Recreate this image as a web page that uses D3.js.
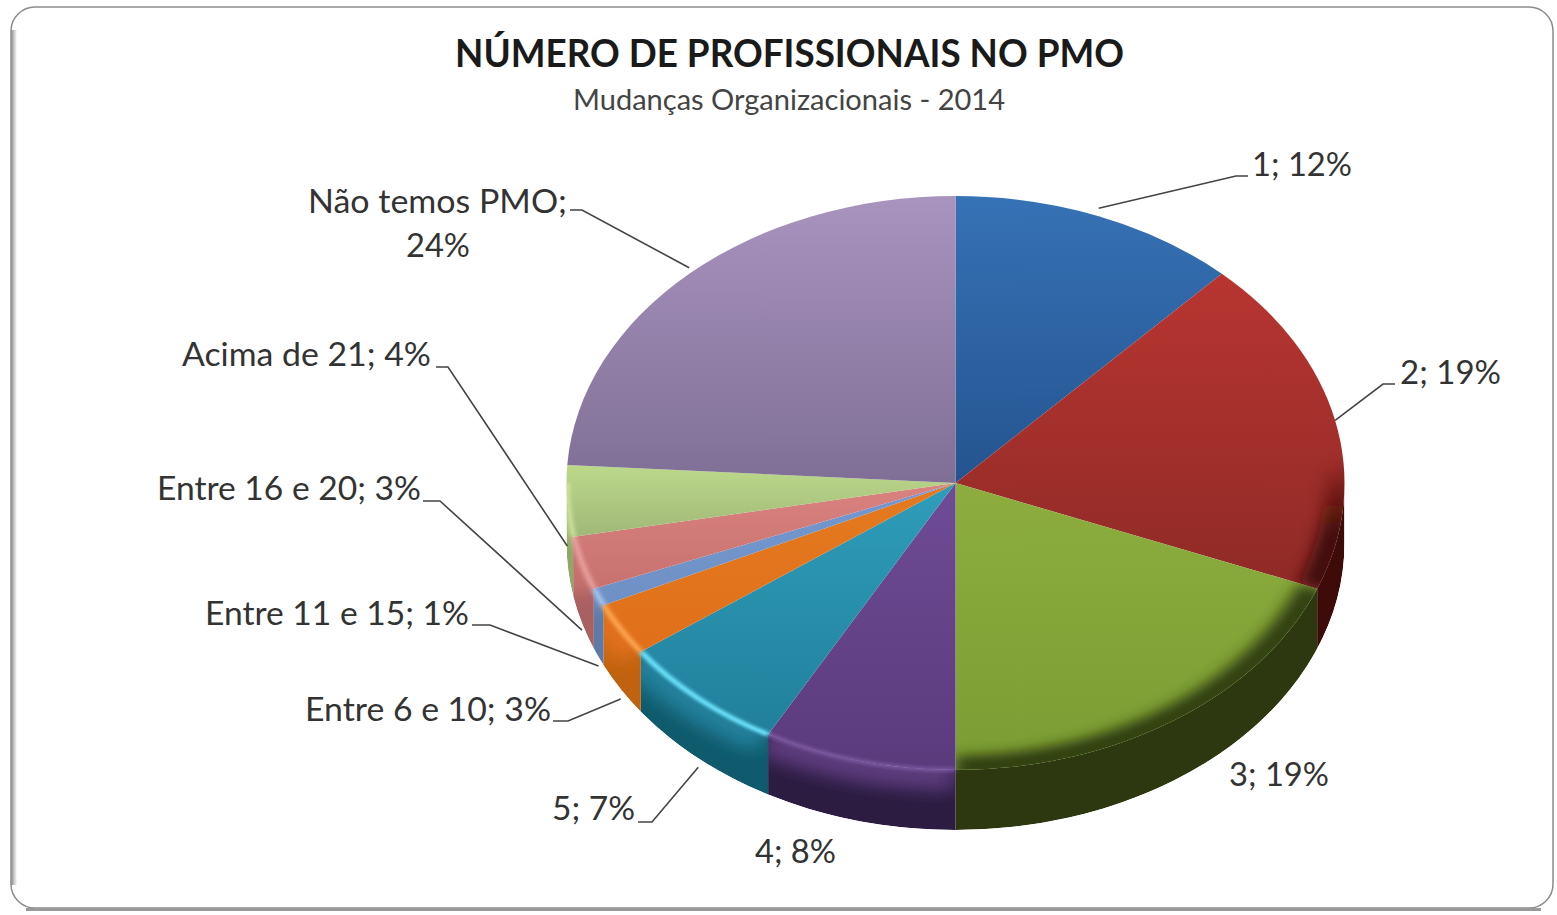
<!DOCTYPE html>
<html>
<head>
<meta charset="utf-8">
<script src="https://cdn.jsdelivr.net/npm/d3@7"></script>
<style>
  html, body { margin: 0; padding: 0; background: #fff; }
  svg { display: block; }
  text { font-family: Lato, "Open Sans", sans-serif; fill: #333; }
</style>
</head>
<body>
<svg id="chart" width="1557" height="915"></svg>
<script>
// data
const categories = ['1', '2', '3', '4', '5', 'Entre 6 e 10', 'Entre 11 e 15', 'Entre 16 e 20', 'Acima de 21', 'Não temos PMO'];
const percents = [12, 19, 19, 8, 7, 3, 1, 3, 4, 24];

// colours, one per slice
const topLight = ['#3672b6', '#b83531', '#8dae3e', '#6f4c96', '#2f9dba', '#e47a20', '#7399d0', '#d98280', '#bcd98a', '#a993bf'];
const topDark = ['#24548f', '#8f2a26', '#7a9c33', '#5b3a7c', '#21809b', '#e0701a', '#6f90c4', '#c87270', '#a0b878', '#7f6f96'];
const sideColors = ['#24548f', '#3f0b08', '#2d3810', '#2c1c42', '#0f5a6c', '#c0620f', '#5e7aa8', '#a96060', '#8fa865', '#6d5f85'];
const glowColors = ['#000', '#000', '#000', '#8e6ab5', '#6ee6ff', '#ffab55', '#a8c8f0', '#eda9a7', '#d9f0a8', '#a993bf'];
const glowOpacity = [0, 0, 0, 0.55, 1, 0.9, 0.9, 0.8, 0.7, 0];
const rimOpacity = [0, 1, 0.95, 0, 0, 0, 0, 0, 0, 0];

// label placement: hand placed in the original, like Excel leaves them
const labelX = [1252, 1400, 1229, 755, 552, 305, 205, 157, 182, 308];
const labelY = [176, 384, 786, 863, 820, 721, 625, 500, 366, 213];
const labelW = [100, 101, 100, 81, 83, 246, 264, 264, 249, 259];
const elbowX = [1236, 1383, null, null, 652, 568, 490, 440, 448, 582];
const elbowY = [176, 384, null, null, 822, 721, 625, 501, 367, 210];
const elbowStart = [1248, 1395, null, null, 638, 553, 472, 423, 436, 570];
const anchorDy = [-8, 0, 0, 0, 69, 70, 69, 67, 45, -6];

const cx = 955.5,
  cy = 483,
  rx = 389,
  ry = 287,
  depth = 60;
const squash = ry / rx;
const deep = depth / squash;

const svg = d3.select('#chart');
const defs = svg.append('defs');

// frame
const frameShadow = defs.append('linearGradient').attr('id', 'frameLeft');
frameShadow.append('stop').attr('offset', 0).attr('stop-color', '#8a8a8a');
frameShadow.append('stop').attr('offset', 1).attr('stop-color', '#fff');

svg.append('rect')
  .attr('x', 11).attr('y', 7)
  .attr('width', 1542).attr('height', 901)
  .attr('rx', 24)
  .attr('fill', '#fff')
  .attr('stroke', '#8c8c8c')
  .attr('stroke-width', 1.5);
svg.append('rect')
  .attr('x', 11).attr('y', 30)
  .attr('width', 6).attr('height', 855)
  .attr('fill', 'url(#frameLeft)');
svg.append('rect')
  .attr('x', 26).attr('y', 908)
  .attr('width', 1515).attr('height', 3)
  .attr('fill', '#9a9a9a');

// titles
svg.append('text')
  .attr('x', 455).attr('y', 67)
  .attr('textLength', 669)
  .attr('lengthAdjust', 'spacingAndGlyphs')
  .style('font-size', '38px')
  .style('font-weight', 700)
  .style('fill', '#1a1a1a')
  .text('NÚMERO DE PROFISSIONAIS NO PMO');
svg.append('text')
  .attr('x', 573).attr('y', 110)
  .attr('textLength', 432)
  .attr('lengthAdjust', 'spacingAndGlyphs')
  .style('font-size', '28px')
  .style('fill', '#444')
  .text('Mudanças Organizacionais - 2014');

// pie, drawn in a squashed group so that d3.arc gives the ellipse
const pie = d3.pie().value((d) => d).sort(null)(percents);
const arc = d3.arc().innerRadius(0).outerRadius(rx);
const rimArc = d3.arc().innerRadius(rx * 0.95).outerRadius(rx * 1.03);

const g = svg.append('g').attr('transform', `translate(${cx},${cy}) scale(1,${squash})`);

function blur(id, amount) {
  defs.append('filter')
    .attr('id', id)
    .attr('filterUnits', 'userSpaceOnUse')
    .attr('x', -450).attr('y', -450)
    .attr('width', 900).attr('height', 1000)
    .append('feGaussianBlur')
    .attr('stdDeviation', amount);
}
blur('blurWide', 11);
blur('blurRim', 8);
blur('blurThin', 2.2);

const clip = defs.append('clipPath').attr('id', 'silhouette');
clip.append('circle').attr('r', rx);
clip.append('circle').attr('cy', deep).attr('r', rx);
clip.append('rect').attr('x', -rx).attr('width', 2 * rx).attr('height', deep);

pie.forEach((d, i) => {
  const top = defs.append('linearGradient')
    .attr('id', 'top' + i)
    .attr('x1', 0).attr('y1', 0).attr('x2', 0).attr('y2', 1);
  top.append('stop').attr('offset', 0).attr('stop-color', topLight[i]);
  top.append('stop').attr('offset', 1).attr('stop-color', topDark[i]);

  // rim fades in going down the right side
  const rim = defs.append('linearGradient')
    .attr('id', 'rim' + i)
    .attr('gradientUnits', 'userSpaceOnUse')
    .attr('x1', 0).attr('y1', -30).attr('x2', 0).attr('y2', 70);
  rim.append('stop').attr('offset', 0).attr('stop-color', sideColors[i]).attr('stop-opacity', 0);
  rim.append('stop').attr('offset', 1).attr('stop-color', sideColors[i]).attr('stop-opacity', rimOpacity[i]);
});

// front wall visible between 3 and 9 o'clock
function frontRange(d) {
  const a0 = Math.max(d.startAngle, Math.PI / 2);
  const a1 = Math.min(d.endAngle, (3 * Math.PI) / 2);
  return a0 < a1 ? [a0 - Math.PI / 2, a1 - Math.PI / 2] : null;
}
function wallPath(d) {
  const range = frontRange(d);
  if (!range) return null;
  const p = d3.path();
  p.arc(0, 0, rx, range[0], range[1]);
  p.arc(0, deep, rx, range[1], range[0], true);
  p.closePath();
  return p.toString();
}
function edgePath(d) {
  const range = frontRange(d);
  if (!range) return null;
  const p = d3.path();
  p.arc(0, 0, rx, range[0], range[1]);
  return p.toString();
}

const front = pie.filter((d) => frontRange(d));
const walls = g.append('g').attr('clip-path', 'url(#silhouette)');

walls.selectAll('path.wall')
  .data(front)
  .enter()
  .append('path')
  .attr('class', 'wall')
  .attr('d', wallPath)
  .attr('fill', (d) => sideColors[d.index]);

// soft fade of the top colour down the wall, clipped to each wall piece
front.forEach((d) => {
  defs.append('clipPath').attr('id', 'wall' + d.index)
    .append('path').attr('d', wallPath(d));
});
walls.selectAll('g.fade')
  .data(front)
  .enter()
  .append('g')
  .attr('class', 'fade')
  .attr('clip-path', (d) => `url(#wall${d.index})`)
  .append('path')
  .attr('d', edgePath)
  .attr('fill', 'none')
  .attr('stroke', (d) => topDark[d.index])
  .attr('stroke-width', 56)
  .attr('stroke-opacity', (d) => (glowOpacity[d.index] > 0 ? 1 : 0))
  .attr('filter', 'url(#blurWide)');

g.selectAll('path.top')
  .data(pie)
  .enter()
  .append('path')
  .attr('class', 'top')
  .attr('d', arc)
  .attr('fill', (d) => `url(#top${d.index})`);

// rim stays inside its own slice so it does not bleed over the neighbour
pie.forEach((d) => {
  defs.append('clipPath').attr('id', 'wedge' + d.index)
    .append('path').attr('d', arc(d));
});

// everything after the top face, still kept inside the pie outline
const overlay = g.append('g').attr('clip-path', 'url(#silhouette)');

// dark rim on the right side of the top face
overlay.selectAll('g.rim')
  .data(pie.filter((d) => rimOpacity[d.index] > 0))
  .enter()
  .append('g')
  .attr('class', 'rim')
  .attr('clip-path', (d) => `url(#wedge${d.index})`)
  .append('path')
  .attr('d', rimArc)
  .attr('fill', (d) => `url(#rim${d.index})`)
  .attr('filter', 'url(#blurRim)');

// highlight along the lit edge
overlay.selectAll('path.glow')
  .data(front.filter((d) => glowOpacity[d.index] > 0))
  .enter()
  .append('path')
  .attr('class', 'glow')
  .attr('d', edgePath)
  .attr('fill', 'none')
  .attr('stroke', (d) => glowColors[d.index])
  .attr('stroke-width', 6)
  .attr('stroke-opacity', (d) => glowOpacity[d.index])
  .attr('filter', 'url(#blurThin)');

// leader lines end on the slice's mid angle
const leaderLine = d3.line();
svg.append('g')
  .selectAll('path')
  .data(pie.filter((d) => elbowX[d.index] !== null))
  .enter()
  .append('path')
  .attr('d', (d) => {
    const i = d.index;
    const mid = (d.startAngle + d.endAngle) / 2;
    return leaderLine([
      [elbowStart[i], elbowY[i]],
      [elbowX[i], elbowY[i]],
      [cx + rx * Math.sin(mid), cy - ry * Math.cos(mid) + anchorDy[i]],
    ]);
  })
  .attr('fill', 'none')
  .attr('stroke', '#444')
  .attr('stroke-width', 1.6);

// labels
const labels = svg.append('g');
labels.selectAll('text')
  .data(pie)
  .enter()
  .append('text')
  .attr('x', (d) => labelX[d.index])
  .attr('y', (d) => labelY[d.index])
  .attr('textLength', (d) => labelW[d.index])
  .attr('lengthAdjust', 'spacingAndGlyphs')
  .style('font-size', '33px')
  .text((d) => {
    const i = d.index;
    return i === 9 ? categories[i] + ';' : `${categories[i]}; ${percents[i]}%`;
  });
labels.append('text')
  .attr('x', 406).attr('y', 257)
  .attr('textLength', 64)
  .attr('lengthAdjust', 'spacingAndGlyphs')
  .style('font-size', '33px')
  .text(percents[9] + '%');
</script>
</body>
</html>
